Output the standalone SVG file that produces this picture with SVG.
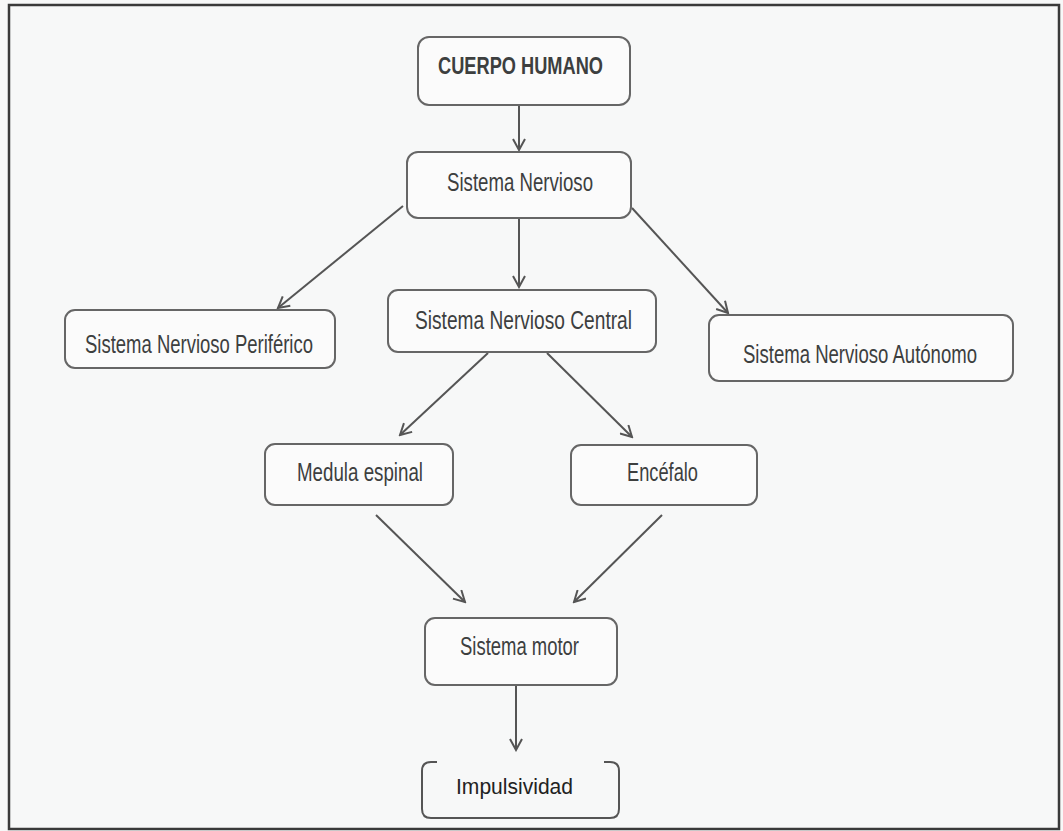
<svg xmlns="http://www.w3.org/2000/svg" width="1063" height="831" viewBox="0 0 1063 831">
<defs>
<style>
.bg{fill:#f7f8f8}
.frame{fill:none;stroke:#3a3a3a;stroke-width:2.5}
.box{fill:#fbfbfb;stroke:#666;stroke-width:2}
.t{font-family:"Liberation Sans Narrow","Liberation Sans",Arial,sans-serif;font-size:25px;fill:#3d3f3f}
.b{font-weight:bold;font-size:24px}
.reg{font-family:"Liberation Sans",Arial,sans-serif;font-size:22px;fill:#222}
.edge{fill:none;stroke:#555;stroke-width:2;marker-end:url(#arr)}
</style>
<marker id="arr" viewBox="0 0 14 14" refX="12" refY="7" markerWidth="14" markerHeight="14" markerUnits="userSpaceOnUse" orient="auto">
<path d="M1,1 L12,7 L1,13" fill="none" stroke="#555" stroke-width="2"/>
</marker>
</defs>
<rect class="bg" x="0" y="0" width="1063" height="831"/>
<rect class="frame" x="9" y="5" width="1050" height="824"/>
<g id="connectors">
<line class="edge" x1="519" y1="105" x2="519" y2="150"/>
<line class="edge" x1="403" y1="206" x2="278" y2="308"/>
<line class="edge" x1="519" y1="218" x2="519" y2="287"/>
<line class="edge" x1="632" y1="208" x2="728" y2="313"/>
<line class="edge" x1="488" y1="353" x2="400" y2="435"/>
<line class="edge" x1="547" y1="353" x2="632" y2="437"/>
<line class="edge" x1="376" y1="515" x2="465" y2="602"/>
<line class="edge" x1="662" y1="515" x2="574" y2="602"/>
<line class="edge" x1="516" y1="685" x2="516" y2="750"/>
</g>
<g id="cuerpo-humano">
<rect class="box" x="418" y="37" width="212" height="68" rx="11"/>
<text class="t b" x="438" y="74" textLength="165" lengthAdjust="spacingAndGlyphs">CUERPO HUMANO</text>
</g>
<g id="sistema-nervioso">
<rect class="box" x="407" y="152" width="224" height="66" rx="11"/>
<text class="t" x="447" y="191" textLength="146" lengthAdjust="spacingAndGlyphs">Sistema Nervioso</text>
</g>
<g id="sn-periferico">
<rect class="box" x="65" y="310" width="270" height="58" rx="10"/>
<text class="t" x="85" y="353" textLength="228" lengthAdjust="spacingAndGlyphs">Sistema Nervioso Periférico</text>
</g>
<g id="sn-central">
<rect class="box" x="388" y="290" width="268" height="62" rx="10"/>
<text class="t" x="415" y="329" textLength="217" lengthAdjust="spacingAndGlyphs">Sistema Nervioso Central</text>
</g>
<g id="sn-autonomo">
<rect class="box" x="709" y="315" width="304" height="66" rx="10"/>
<text class="t" x="743" y="363" textLength="234" lengthAdjust="spacingAndGlyphs">Sistema Nervioso Autónomo</text>
</g>
<g id="medula-espinal">
<rect class="box" x="265" y="444" width="188" height="61" rx="10"/>
<text class="t" x="297" y="481" textLength="126" lengthAdjust="spacingAndGlyphs">Medula espinal</text>
</g>
<g id="encefalo">
<rect class="box" x="571" y="445" width="186" height="60" rx="10"/>
<text class="t" x="627" y="481" textLength="71" lengthAdjust="spacingAndGlyphs">Encéfalo</text>
</g>
<g id="sistema-motor">
<rect class="box" x="425" y="618" width="192" height="67" rx="10"/>
<text class="t" x="460" y="655" textLength="119" lengthAdjust="spacingAndGlyphs">Sistema motor</text>
</g>
<g id="impulsividad">
<path d="M437,762 L431,762 Q422,762 422,771 L422,809 Q422,818 431,818 L610,818 Q619,818 619,809 L619,771 Q619,762 610,762 L604,762" fill="none" stroke="#555" stroke-width="2"/>
<text class="reg" x="456" y="794" textLength="117" lengthAdjust="spacingAndGlyphs">Impulsividad</text>
</g>
</svg>
